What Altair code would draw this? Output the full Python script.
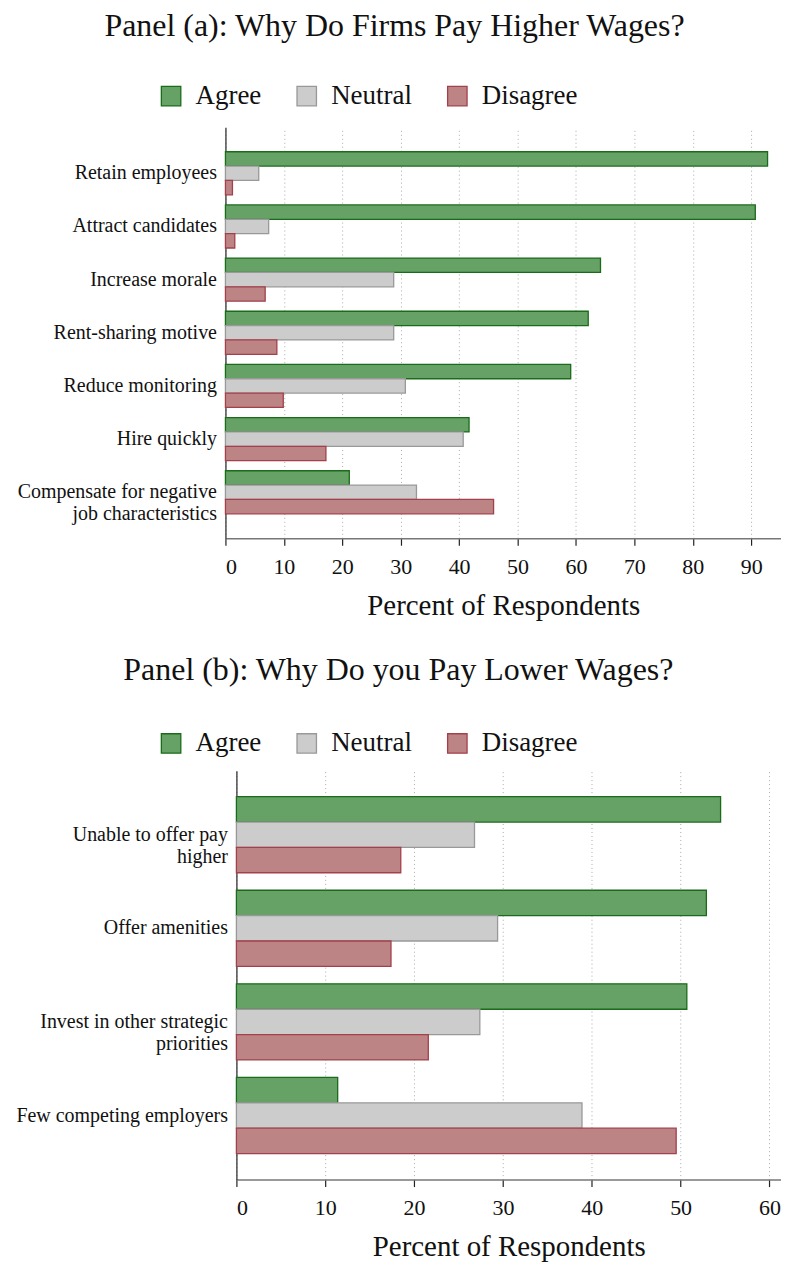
import altair as alt
import pandas as pd

responses = ["Agree", "Neutral", "Disagree"]
fills = ["#66a166", "#cccccc", "#bc8484"]
strokes = ["#1a6b1a", "#999999", "#a3404b"]

cats_a = ["Retain employees", "Attract candidates", "Increase morale",
          "Rent-sharing motive", "Reduce monitoring", "Hire quickly",
          "Compensate for negative\njob characteristics"]
agree_a = [92.8, 90.7, 64.2, 62.1, 59.1, 41.7, 21.2]
neutral_a = [5.7, 7.4, 28.8, 28.8, 30.8, 40.7, 32.7]
disagree_a = [1.2, 1.6, 6.8, 8.8, 9.9, 17.2, 45.9]
ticks_a = [0, 10, 20, 30, 40, 50, 60, 70, 80, 90]

cats_b = ["Unable to offer pay\nhigher", "Offer amenities",
          "Invest in other strategic\npriorities", "Few competing employers"]
agree_b = [54.5, 52.9, 50.7, 11.4]
neutral_b = [26.8, 29.4, 27.4, 38.9]
disagree_b = [18.5, 17.4, 21.6, 49.5]
ticks_b = [0, 10, 20, 30, 40, 50, 60]

title_a = "Panel (a): Why Do Firms Pay Higher Wages?"
title_b = "Panel (b): Why Do you Pay Lower Wages?"
x_title = "Percent of Respondents"

FONT = "Liberation Serif"
W = 557
EXTENT = 218


def long_df(cats, ag, ne, di):
    rows = []
    for c, a, n, d in zip(cats, ag, ne, di):
        for r, v in zip(responses, [a, n, d]):
            rows.append({"Reason": c, "Response": r, "Percent": v})
    return pd.DataFrame(rows)


def panel(df, cats, ticks, title, xmax, shift, height, pi, po, ly, toff):
    leg = alt.Legend(orient="none", legendX=-68, legendY=ly, direction="horizontal",
                     title=None, symbolType="square", symbolSize=380,
                     symbolStrokeWidth=1.3, labelFontSize=27, labelFont=FONT,
                     labelColor="#111", labelOffset=11, columnPadding=32)
    return alt.Chart(df).mark_bar(strokeWidth=1.3).encode(
        x=alt.X("Percent:Q",
                scale=alt.Scale(domain=[0, xmax], nice=False, zero=True,
                                range=[shift, W]),
                axis=alt.Axis(values=ticks, title=x_title, grid=True,
                              gridDash=[1, 3], gridColor="#aaaaaa", gridWidth=1,
                              domainColor="#777", domainWidth=1.5,
                              tickColor="#222", tickSize=7, tickWidth=1.2,
                              labelFontSize=22, labelFont=FONT, labelColor="#111",
                              labelPadding=11, titleFontSize=29, titleFont=FONT,
                              titleFontWeight="normal", titleColor="#111",
                              titlePadding=14)),
        y=alt.Y("Reason:N", sort=cats,
                scale=alt.Scale(paddingInner=pi, paddingOuter=po),
                axis=alt.Axis(title=None, ticks=False, domainColor="#333",
                              domainWidth=1.3, offset=-shift,
                              labelExpr="split(datum.label, '\\n')",
                              labelFontSize=20, labelFont=FONT, labelColor="#111",
                              labelLineHeight=22, labelPadding=9, labelLimit=400,
                              minExtent=EXTENT, maxExtent=EXTENT)),
        yOffset=alt.YOffset("Response:N", sort=responses,
                            scale=alt.Scale(domain=responses, paddingInner=0)),
        fill=alt.Fill("Response:N", sort=responses,
                      scale=alt.Scale(domain=responses, range=fills), legend=leg),
        stroke=alt.Stroke("Response:N", sort=responses,
                          scale=alt.Scale(domain=responses, range=strokes), legend=leg),
    ).properties(
        width=W, height=height,
        title=alt.TitleParams(title, fontSize=32, font=FONT, fontWeight="normal",
                              color="#111", anchor="middle", frame="bounds",
                              offset=toff),
    )


pa = panel(long_df(cats_a, agree_a, neutral_a, disagree_a), cats_a, ticks_a,
           title_a, 95.1, 0, 412, 0.19, 0.46, -45, 40)
pb = panel(long_df(cats_b, agree_b, neutral_b, disagree_b), cats_b, ticks_b,
           title_b, 61.3, 11, 410, 0.187, 0.278, -41, 43)

chart = alt.vconcat(pa, pb, spacing=34).resolve_scale(
    x="independent", y="independent", yOffset="independent",
    fill="independent", stroke="independent"
).resolve_legend(fill="independent", stroke="independent").configure_view(
    stroke=None
).properties(padding={"left": 0, "top": 0, "right": 0, "bottom": 0})

chart.save("out.html", embed_options={"renderer": "svg", "actions": False})
